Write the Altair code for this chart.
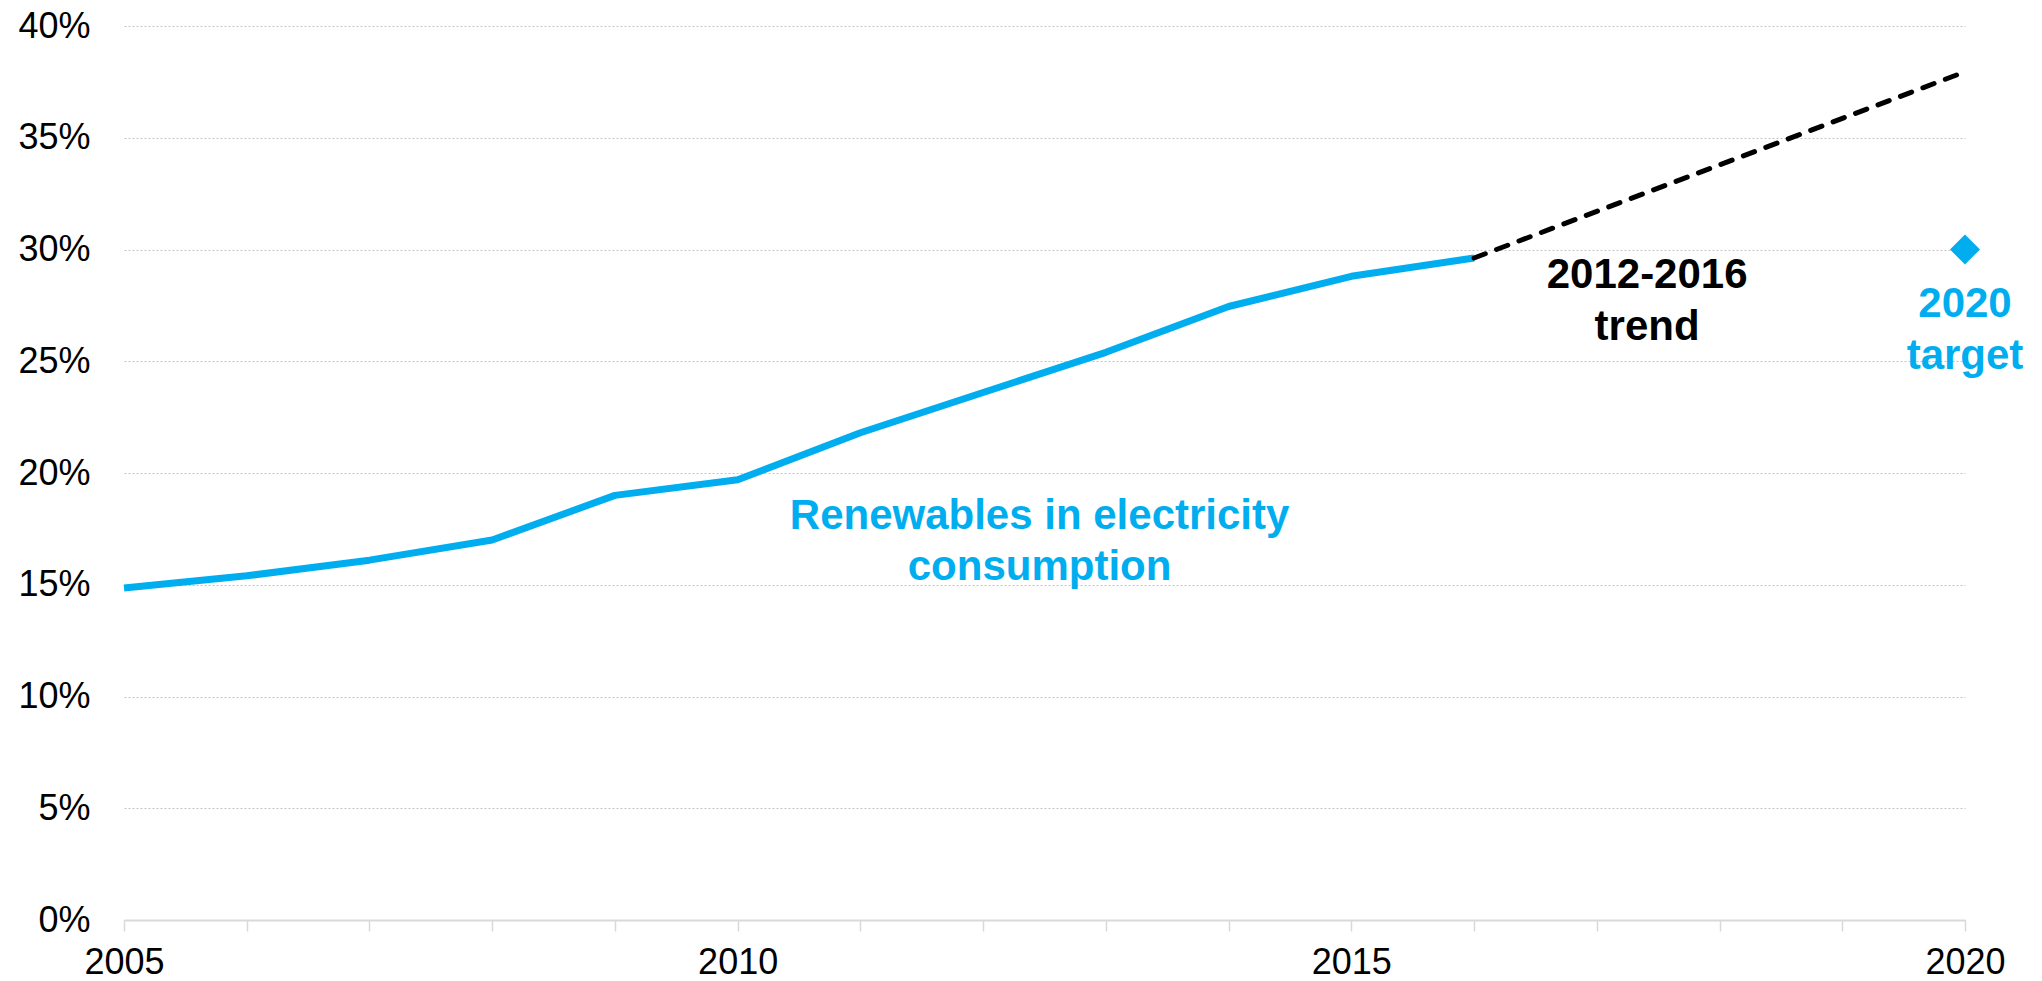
import altair as alt
import pandas as pd

# ---- data ----
years = [2005, 2006, 2007, 2008, 2009, 2010, 2011, 2012, 2013, 2014, 2015, 2016]
share = [14.85, 15.4, 16.1, 17.0, 19.0, 19.7, 21.8, 23.6, 25.4, 27.45, 28.8, 29.62]

trend_years = [2016, 2020]
trend_vals = [29.62, 37.95]

target_years = [2020]
target_vals = [30.0]

tick_years = list(range(2005, 2021))
y_ticks = [0, 5, 10, 15, 20, 25, 30, 35, 40]

# annotation texts (anchor year, anchor value of first baseline, lines)
ann_renew = {"year": 2012.46, "val": 17.5, "lines": ["Renewables in electricity", "consumption"]}
ann_trend = {"year": 2017.41, "val": 28.27, "lines": ["2012-2016", "trend"]}
ann_target = {"year": 2020, "val": 26.97, "lines": ["2020", "target"]}

BLUE = "#00AEEF"
FONT = "Liberation Sans"

df_line = pd.DataFrame({"year": years, "val": share})
df_trend = pd.DataFrame({"year": trend_years, "val": trend_vals})
df_target = pd.DataFrame({"year": target_years, "val": target_vals})

x_scale = alt.Scale(domain=[2005, 2020], nice=False, zero=False)
y_scale = alt.Scale(domain=[0, 40], nice=False, zero=True)

x_axis = alt.Axis(
    values=tick_years,
    labelExpr="datum.value % 5 === 0 ? '' + datum.value : ''",
    labelOverlap=False,
    labelFlush=False,
    grid=False,
    domain=True,
    domainColor="#d9d9d9",
    domainWidth=2,
    ticks=True,
    tickColor="#d9d9d9",
    tickWidth=1.5,
    tickSize=11,
    labelPadding=14,
    labelFont=FONT,
    labelFontSize=36,
    labelColor="#000000",
    title=None,
)
y_axis = alt.Axis(
    values=y_ticks,
    labelExpr="datum.value + '%'",
    domain=False,
    ticks=False,
    grid=True,
    gridColor="#c4c4c4",
    gridDash=[2, 2],
    gridWidth=1,
    labelPadding=34,
    labelFont=FONT,
    labelFontSize=36,
    labelColor="#000000",
    labelBaseline="middle",
    title=None,
)

X = alt.X("year:Q", scale=x_scale, axis=x_axis)
Y = alt.Y("val:Q", scale=y_scale, axis=y_axis)

line = alt.Chart(df_line).mark_line(color=BLUE, strokeWidth=7, strokeJoin="round").encode(x=X, y=Y)

trend = alt.Chart(df_trend).mark_line(
    color="#000000", strokeWidth=5, strokeDash=[12, 12], strokeCap="round"
).encode(x=X, y=Y)

target = alt.Chart(df_target).mark_point(
    shape="diamond", filled=True, size=900, color=BLUE, opacity=1
).encode(x=X, y=Y)


def ann(a, color, lh):
    d = pd.DataFrame({"year": [a["year"]], "val": [a["val"]], "txt": ["\n".join(a["lines"])]})
    return alt.Chart(d).mark_text(
        font=FONT, fontSize=42, fontWeight="bold", color=color,
        align="center", baseline="alphabetic", lineBreak="\n", lineHeight=lh,
    ).encode(x=X, y=Y, text="txt:N")


t1 = ann(ann_renew, BLUE, 51)
t2 = ann(ann_trend, "#000000", 52)
t3 = ann(ann_target, BLUE, 52)

chart = alt.layer(line, trend, target, t1, t2, t3).properties(
    width=1841,
    height=894,
    padding={"left": 124, "top": 26, "right": 77, "bottom": 61},
    autosize=alt.AutoSizeParams(type="none"),
    background="#ffffff",
).configure_view(stroke=None)

chart.save("out.html", embed_options={"renderer": "svg", "actions": False})
